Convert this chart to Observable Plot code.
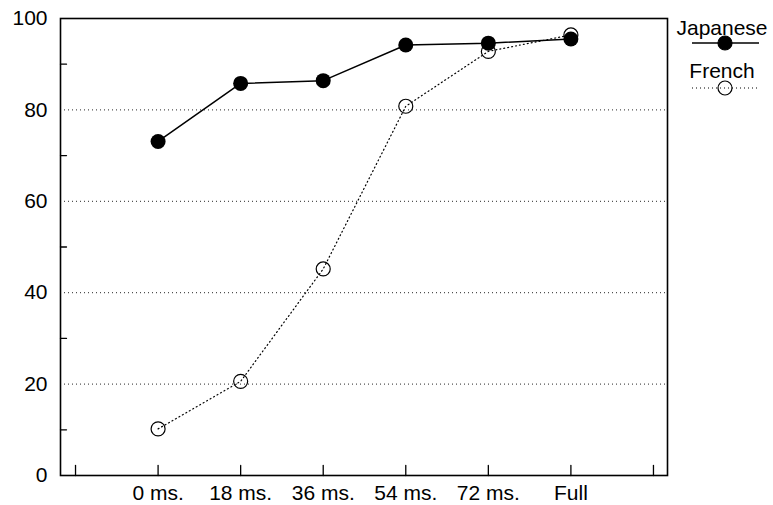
<!DOCTYPE html>
<html><head><meta charset="utf-8">
<script src="https://cdn.jsdelivr.net/npm/d3@7"></script>
<script src="https://cdn.jsdelivr.net/npm/@observablehq/plot@0.6"></script>
<style>
body{margin:0;background:#fff}
#chart svg{display:block}
</style>
</head><body><div id="chart"></div>
<script>
const categories = ["0 ms.", "18 ms.", "36 ms.", "54 ms.", "72 ms.", "Full"];
const japanese = [73.1, 85.8, 86.4, 94.2, 94.6, 95.5];
const french = [10.2, 20.6, 45.2, 80.8, 92.8, 96.4];
const seriesNames = ["Japanese", "French"];
const yTicks = [0, 20, 40, 60, 80, 100];
const yGrid = [20, 40, 60, 80];
const yMinorTicks = [10, 30, 50, 70, 90];

const idx = categories.map((c, i) => i);
const xTickMarks = d3.range(-1, categories.length + 1);
const jp = idx.map(i => ({i, cat: categories[i], value: japanese[i]}));
const fr = idx.map(i => ({i, cat: categories[i], value: french[i]}));

const FONT = "'Liberation Sans', Arial, Helvetica, sans-serif";
const FS = 21;
const tickShape = {draw(ctx, l) { ctx.moveTo(0, 0); ctx.lineTo(0, -l); }};

const svg = Plot.plot({
  width: 773,
  height: 505,
  marginLeft: 60,
  marginRight: 106,
  marginTop: 18,
  marginBottom: 30,
  style: {fontFamily: FONT, fontSize: FS + "px", background: "#fff", color: "#000", overflow: "visible"},
  x: {type: "linear", domain: [-1.182, 6.17]},
  y: {domain: [0, 100]},
  marks: [
    Plot.ruleY(yGrid, {stroke: "#000", strokeWidth: 1, strokeDasharray: "1 3", strokeOpacity: 0.85}),
    Plot.axisY(yTicks, {anchor: "left", tickSize: 0, tickPadding: 13, label: null, fontSize: FS}),
    Plot.axisX(idx, {anchor: "bottom", tickSize: 0, tickPadding: 10, label: null, fontSize: FS,
      tickFormat: i => categories[i]}),
    Plot.vector(xTickMarks, {x: d => d, frameAnchor: "bottom", length: 10, rotate: 0, anchor: "start",
      shape: tickShape, stroke: "#000", strokeWidth: 1.3}),
    Plot.vector(yMinorTicks, {y: d => d, frameAnchor: "left", length: 6, rotate: 90, anchor: "start",
      shape: tickShape, stroke: "#000", strokeWidth: 1.3}),
    Plot.line(fr, {x: "i", y: "value", stroke: "#000", strokeWidth: 1.2, strokeDasharray: "1 3"}),
    Plot.dot(fr, {x: "i", y: "value", r: 7, stroke: "#000", fill: "none", strokeWidth: 1.2}),
    Plot.line(jp, {x: "i", y: "value", stroke: "#000", strokeWidth: 1.5}),
    Plot.dot(jp, {x: "i", y: "value", r: 7.5, fill: "#000", stroke: "none"}),
    Plot.frame({stroke: "#000", strokeWidth: 1.6})
  ]
});

// Legend in the right margin
const g = d3.select(svg).append("g").attr("font-family", FONT).attr("font-size", FS).attr("fill", "#000");
const legendItems = [
  {name: seriesNames[0], textY: 35, lineY: 43, dash: null, fill: "#000", sw: 1.5},
  {name: seriesNames[1], textY: 78, lineY: 88, dash: "1 3", fill: "none", sw: 1.2}
];
for (const it of legendItems) {
  g.append("text").attr("x", 722).attr("y", it.textY).attr("text-anchor", "middle").text(it.name);
  g.append("line").attr("x1", 692).attr("x2", 759).attr("y1", it.lineY).attr("y2", it.lineY)
    .attr("stroke", "#000").attr("stroke-width", it.sw).attr("stroke-dasharray", it.dash);
  g.append("circle").attr("cx", 725).attr("cy", it.lineY).attr("r", 7)
    .attr("fill", it.fill).attr("stroke", "#000").attr("stroke-width", 1.2);
}

document.getElementById("chart").appendChild(svg);
</script>
</body></html>
